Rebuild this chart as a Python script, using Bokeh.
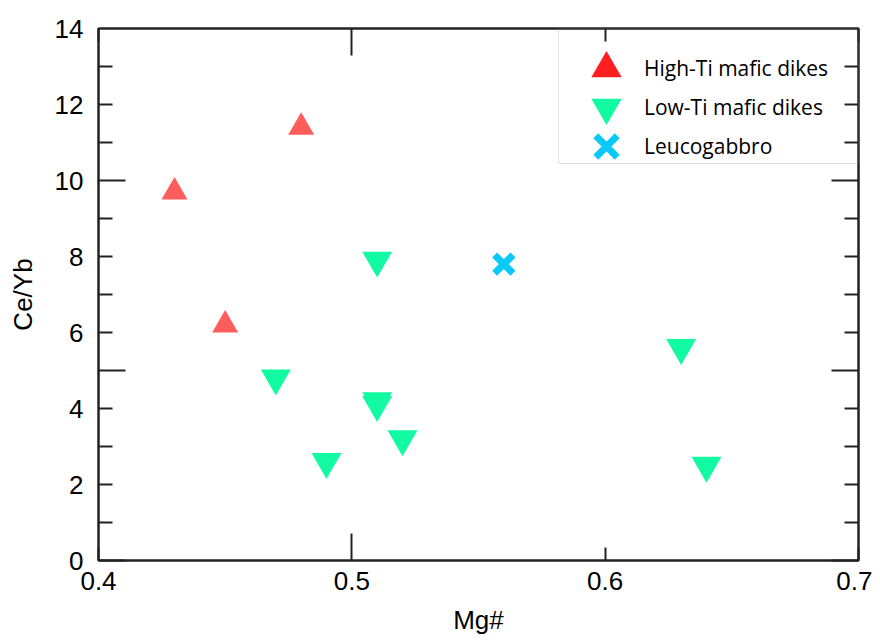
from bokeh.plotting import figure
from bokeh.models import Range1d, LinearAxis, FixedTicker, Legend, LegendItem, BoxAnnotation
from bokeh.embed import file_html
from bokeh.resources import INLINE

# ---- data ----
high_ti_mg = [0.43, 0.45, 0.48]
high_ti_ceyb = [9.7, 6.2, 11.4]
low_ti_mg = [0.51, 0.47, 0.51, 0.51, 0.52, 0.49, 0.63, 0.64]
low_ti_ceyb = [7.9, 4.8, 4.2, 4.1, 3.2, 2.6, 5.6, 2.5]
leuco_mg = [0.56]
leuco_ceyb = [7.8]

series_labels = ["High-Ti mafic dikes", "Low-Ti mafic dikes", "Leucogabbro"]

x_label_ticks = [0.4, 0.5, 0.6, 0.7]
x_tick_labels = ["0.4", "0.5", "0.6", "0.7"]
x_long_ticks = [0.5]
x_short_ticks = [0.4, 0.6, 0.7]
y_label_ticks = [0, 2, 4, 6, 8, 10, 12, 14]
y_tick_labels = ["0", "2", "4", "6", "8", "10", "12", "14"]
y_long_ticks = [0, 5, 10]
y_short_ticks = [1, 2, 3, 4, 6, 7, 8, 9, 11, 12, 13]

AX = "#222222"
FONT = "Liberation Sans"

p = figure(width=872, height=640, output_backend="svg", toolbar_location=None,
           x_range=Range1d(0.4, 0.7), y_range=Range1d(0, 14),
           min_border_left=98, min_border_right=14, min_border_top=28, min_border_bottom=80,
           x_axis_location=None, y_axis_location=None)
p.xgrid.visible = False
p.ygrid.visible = False
p.outline_line_color = AX
p.outline_line_width = 2
p.background_fill_color = "white"
p.border_fill_color = "white"


def tick_axis(long_ticks, short_ticks, long_len, short_len):
    return LinearAxis(
        ticker=FixedTicker(ticks=long_ticks, minor_ticks=short_ticks),
        major_tick_in=long_len, major_tick_out=0,
        minor_tick_in=short_len, minor_tick_out=0,
        major_tick_line_color=AX, minor_tick_line_color=AX,
        major_tick_line_width=2, minor_tick_line_width=2,
        axis_line_color=AX, axis_line_width=2,
        major_label_text_font_size="0px", major_label_standoff=0,
        major_label_overrides={t: "" for t in long_ticks},
    )


def label_axis(ticks, labels, title, standoff, title_standoff):
    return LinearAxis(
        ticker=FixedTicker(ticks=ticks, minor_ticks=[]),
        major_tick_in=0, major_tick_out=0, minor_tick_in=0, minor_tick_out=0,
        axis_line_color=None,
        major_label_overrides=dict(zip(ticks, labels)),
        major_label_text_font=FONT, major_label_text_font_size="26px",
        major_label_text_color="black", major_label_standoff=standoff,
        axis_label=title, axis_label_text_font=FONT, axis_label_text_font_size="26px",
        axis_label_text_font_style="normal", axis_label_text_color="black",
        axis_label_standoff=title_standoff,
    )


# inner tick axes (no labels), then outer label axes
p.add_layout(tick_axis(y_long_ticks, y_short_ticks, 27, 14), "left")
p.add_layout(label_axis(y_label_ticks, y_tick_labels, "Ce/Yb", 15, 14), "left")
p.add_layout(tick_axis(x_long_ticks, x_short_ticks, 27, 13), "below")
p.add_layout(label_axis(x_label_ticks, x_tick_labels, "Mg#", 11, 12), "below")
p.add_layout(tick_axis(y_long_ticks, y_short_ticks, 27, 14), "right")
p.add_layout(tick_axis(x_long_ticks, x_short_ticks, 27, 13), "above")

# legend-style glyphs: same data, zero size in the plot (legend draws its own size)
lg1 = p.scatter(high_ti_mg, high_ti_ceyb, marker="triangle", size=0,
                fill_color="#FF1F1F", line_color=None)
lg2 = p.scatter(low_ti_mg, low_ti_ceyb, marker="inverted_triangle", size=0,
                fill_color="#12FBA2", line_color=None)
lg3 = p.scatter(leuco_mg, leuco_ceyb, marker="x", size=0,
                line_color="#0CC8F6", line_width=7, line_cap="butt")

# data markers
p.scatter(high_ti_mg, high_ti_ceyb, marker="triangle", size=26,
          fill_color="#FF5C5C", line_color=None)
p.scatter(low_ti_mg, low_ti_ceyb, marker="inverted_triangle", size=30,
          fill_color="#12FBA2", line_color=None)
p.scatter(leuco_mg, leuco_ceyb, marker="x", size=26,
          line_color="#0CC8F6", line_width=7)

# legend frame
p.add_layout(BoxAnnotation(left=0.5816, right=0.7, bottom=10.447, top=14,
                           fill_alpha=0, line_color="#999999", line_width=1))

# one legend per row; location = (px from frame left, px from frame bottom)
legend_bottoms = [454, 415, 376]
for lab, rend, yb in zip(series_labels, [lg1, lg2, lg3], legend_bottoms):
    leg = Legend(
        items=[LegendItem(label=lab, renderers=[rend])],
        location=(470, yb), margin=0, padding=0, spacing=0,
        glyph_width=76, glyph_height=76, label_standoff=0, label_height=20,
        label_text_font="Open Sans", label_text_font_size="21px",
        label_text_color="black",
        border_line_color=None, background_fill_alpha=0,
    )
    p.add_layout(leg)

open("out.html", "w").write(file_html(p, INLINE))
